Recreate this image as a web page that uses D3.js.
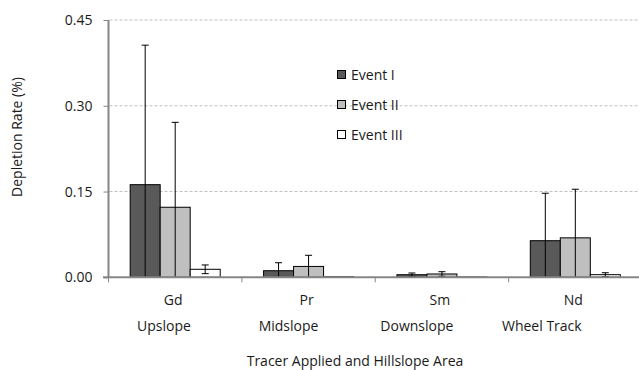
<!DOCTYPE html>
<html>
<head>
<meta charset="utf-8">
<script src="https://cdn.jsdelivr.net/npm/d3@7"></script>
<style>
  html, body { margin: 0; padding: 0; background: #fff; }
  svg { display: block; font-family: "Open Sans", "Liberation Sans", sans-serif; }
</style>
</head>
<body>
<svg id="chart" width="639" height="370"></svg>
<script>
// Tracer depletion by hillslope position
const tracers = ["Gd", "Pr", "Sm", "Nd"];
const areas = ["Upslope", "Midslope", "Downslope", "Wheel Track"];
const events = ["Event I", "Event II", "Event III"];

const eventI   = [0.162, 0.0115, 0.0045, 0.064];
const eventII  = [0.1225, 0.019, 0.0058, 0.069];
const eventIII = [0.014, 0.001, 0.0005, 0.0046];

const errI   = [0.244, 0.014, 0.003, 0.083];
const errII  = [0.1485, 0.0195, 0.004, 0.085];
const errIII = [0.0076, 0, 0, 0.0034];

const yTicks = [0, 0.15, 0.30, 0.45];
const colors = ["#595959", "#bfbfbf", "#ffffff"];

const seriesValues = [eventI, eventII, eventIII];
const seriesErrors = [errI, errII, errIII];

const FS = 14;
const TXT = "#1a1a1a";

const svg = d3.select("#chart");

const x = d3.scaleBand().domain(tracers).range([108.5, 642]).padding(0);
const barW = x.bandwidth() * 0.225;
const xe = d3.scaleBand().domain(events)
  .range([(x.bandwidth() - 3 * barW) / 2, (x.bandwidth() + 3 * barW) / 2]);
const y = d3.scaleLinear().domain([0, 0.45]).range([277.3, 20]);

// dashed gridlines
svg.append("g")
  .selectAll("line")
  .data(yTicks.filter(d => d > 0))
  .join("line")
  .attr("x1", 109.5).attr("x2", 639)
  .attr("y1", d => y(d)).attr("y2", d => y(d))
  .attr("stroke", "#bfbfbf").attr("stroke-width", 1)
  .attr("stroke-dasharray", "3,2");

// bars and error bars
svg.append("clipPath").attr("id", "plotClip")
  .append("rect").attr("x", 100).attr("y", 0).attr("width", 539).attr("height", 277.3);
const groups = svg.append("g").attr("clip-path", "url(#plotClip)");

const flat = [];
tracers.forEach((t, i) => {
  events.forEach((e, j) => {
    flat.push({ tracer: t, event: e, j, v: seriesValues[j][i], err: seriesErrors[j][i] });
  });
});

groups.selectAll("rect.bar")
  .data(flat)
  .join("rect")
  .attr("class", "bar")
  .attr("x", d => x(d.tracer) + xe(d.event))
  .attr("width", xe.bandwidth())
  .attr("y", d => y(d.v))
  .attr("height", d => y(0) - y(d.v))
  .attr("fill", d => colors[d.j])
  .attr("stroke", "#000").attr("stroke-width", 1);

const errs = flat.filter(d => d.err > 0);
const cx = d => x(d.tracer) + xe(d.event) + xe.bandwidth() / 2;
groups.selectAll("line.err")
  .data(errs)
  .join("line")
  .attr("class", "err")
  .attr("x1", cx).attr("x2", cx)
  .attr("y1", d => y(d.v + d.err))
  .attr("y2", d => y(d.v - d.err))
  .attr("stroke", "#000").attr("stroke-width", 1);
groups.selectAll("line.capTop")
  .data(errs)
  .join("line")
  .attr("class", "capTop")
  .attr("x1", d => cx(d) - 3.5).attr("x2", d => cx(d) + 3.5)
  .attr("y1", d => y(d.v + d.err)).attr("y2", d => y(d.v + d.err))
  .attr("stroke", "#000").attr("stroke-width", 1);
groups.selectAll("line.capBot")
  .data(errs.filter(d => d.v - d.err > 0))
  .join("line")
  .attr("class", "capBot")
  .attr("x1", d => cx(d) - 3.5).attr("x2", d => cx(d) + 3.5)
  .attr("y1", d => y(d.v - d.err)).attr("y2", d => y(d.v - d.err))
  .attr("stroke", "#000").attr("stroke-width", 1);

// y axis
const yAxis = svg.append("g").attr("transform", "translate(108.5,0)")
  .call(d3.axisLeft(y).tickValues(yTicks).tickFormat(d3.format(".2f")).tickSize(5).tickPadding(11));
yAxis.select(".domain").attr("stroke", "#868686").attr("stroke-width", 2)
  .attr("d", `M0,${y(0.45)}V${y(0)}`);
yAxis.selectAll(".tick line").attr("stroke", "#868686");
yAxis.selectAll(".tick text").attr("font-size", FS).attr("fill", TXT)
  .attr("font-family", "Open Sans");

// x axis
const xAxis = svg.append("g").attr("transform", `translate(0,${y(0)})`);
xAxis.append("line").attr("x1", 103).attr("x2", 639)
  .attr("y1", 0).attr("y2", 0)
  .attr("stroke", "#868686").attr("stroke-width", 2);
xAxis.selectAll("line.tk")
  .data(tracers)
  .join("line").attr("class", "tk")
  .attr("x1", d => x(d)).attr("x2", d => x(d))
  .attr("y1", 0).attr("y2", 5)
  .attr("stroke", "#868686");
xAxis.selectAll("text.cat")
  .data(tracers)
  .join("text").attr("class", "cat")
  .attr("x", d => x(d) + x.bandwidth() / 2 - 2)
  .attr("y", 28)
  .attr("text-anchor", "middle")
  .attr("font-size", FS).attr("fill", TXT)
  .text(d => d);

// hillslope area labels, evenly spaced beneath the tracer names
const areaX = d3.scalePoint().domain(areas).range([137, 502]);
svg.selectAll("text.area")
  .data(areas)
  .join("text").attr("class", "area")
  .attr("x", d => areaX(d))
  .attr("y", 331)
  .attr("font-size", FS).attr("fill", TXT)
  .text(d => d);

// axis titles
svg.append("text")
  .attr("x", 355).attr("y", 366)
  .attr("text-anchor", "middle")
  .attr("font-size", FS).attr("fill", TXT)
  .text("Tracer Applied and Hillslope Area");
svg.append("text")
  .attr("transform", "translate(22,137) rotate(-90)")
  .attr("text-anchor", "middle")
  .attr("font-size", FS).attr("fill", TXT)
  .text("Depletion Rate (%)");

// legend
const legend = svg.append("g");
const legY = d3.scalePoint().domain(events).range([75, 135]);
legend.selectAll("rect")
  .data(events)
  .join("rect")
  .attr("x", 337.5).attr("y", d => legY(d) - 4.5)
  .attr("width", 8).attr("height", 8)
  .attr("fill", (d, i) => colors[i])
  .attr("stroke", "#000").attr("stroke-width", 1);
legend.selectAll("text")
  .data(events)
  .join("text")
  .attr("x", 351).attr("y", d => legY(d) + 5)
  .attr("font-size", FS).attr("fill", TXT)
  .text(d => d);
</script>
</body>
</html>
